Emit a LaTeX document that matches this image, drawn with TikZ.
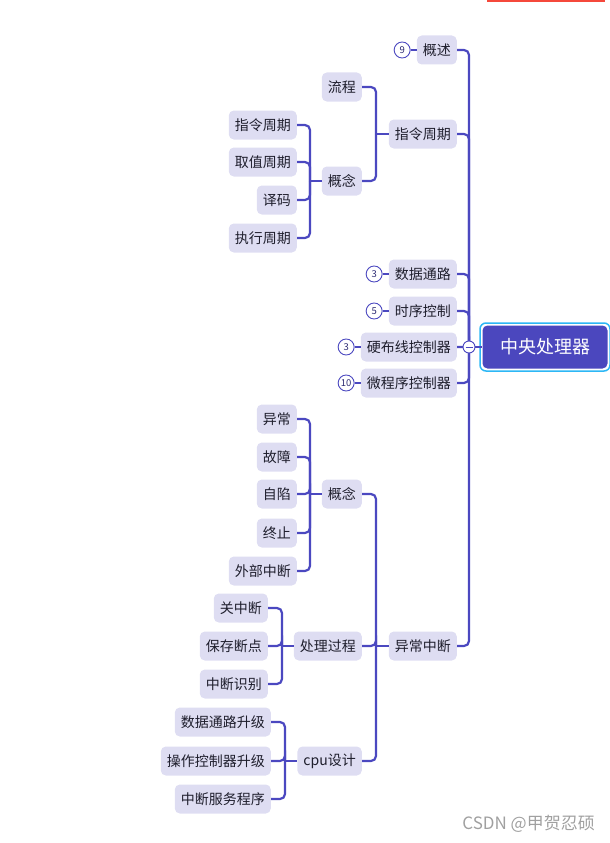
\documentclass[tikz,border=0pt]{standalone}
\usepackage{fontspec}
\setmainfont{Noto Sans CJK SC}
\definecolor{lineC}{HTML}{4B48C0}
\definecolor{boxC}{HTML}{DEDDF2}
\definecolor{txtC}{HTML}{1E1E2C}
\definecolor{rootC}{HTML}{4B47BE}
\definecolor{selC}{HTML}{2DB7F5}
\definecolor{redC}{HTML}{F5483B}
\definecolor{wmC}{HTML}{A0A0A0}
\begin{document}
\begin{tikzpicture}[x=1pt,y=-1pt,
 topic/.style={fill=boxC, rounded corners=5pt, minimum height=29pt, inner xsep=6pt, inner ysep=0pt, font=\fontsize{14}{16}\selectfont, text=txtC, anchor=east},
 conn/.style={draw=lineC, line width=2.2pt, rounded corners=5pt},
 badge/.style={circle, draw=lineC, line width=0.9pt, fill=white, minimum size=16pt, inner sep=0pt, font=\fontsize{9.5}{10}\selectfont, text=lineC!60!black, left=6pt},
 rootbox/.style={fill=rootC, rounded corners=5pt, minimum width=125pt, minimum height=43pt, inner sep=0pt, text=white, font=\fontsize{18}{20}\selectfont},
]
\useasboundingbox (0,0) rectangle (610,843);
\fill[redC] (487,0) rectangle (605,2);

% junction coordinates
\coordinate (j0) at (469,347);
\coordinate (j1) at (376,134);
\coordinate (j2) at (310,181);
\coordinate (j3) at (376,646);
\coordinate (j4) at (310,494);
\coordinate (j5) at (282,646);
\coordinate (j6) at (285,761);

% root
\node[rootbox] (root) at (545,347) {中央处理器};
\node[draw=selC, line width=1.5pt, rounded corners=6pt, minimum width=130pt, minimum height=48pt, inner sep=0pt] (rootsel) at (root.center) {};

% level 1
\node[topic] (gaishu) at (457,50) {概述};
\node[topic] (zlzq) at (457,134) {指令周期};
\node[topic] (sjtl) at (457,274) {数据通路};
\node[topic] (sxkz) at (457,311) {时序控制};
\node[topic] (ybx) at (457,347) {硬布线控制器};
\node[topic] (wcx) at (457,383) {微程序控制器};
\node[topic] (yczd) at (457,646) {异常中断};

% 指令周期 subtree
\node[topic] (liucheng) at (362,87) {流程};
\node[topic] (gnA) at (362,181) {概念};
\node[topic] (a1) at (297,125) {指令周期};
\node[topic] (a2) at (297,162) {取值周期};
\node[topic] (a3) at (297,200) {译码};
\node[topic] (a4) at (297,238) {执行周期};

% 异常中断 subtree
\node[topic] (gnB) at (362,494) {概念};
\node[topic] (b1) at (297,419) {异常};
\node[topic] (b2) at (297,457) {故障};
\node[topic] (b3) at (297,494) {自陷};
\node[topic] (b4) at (297,533) {终止};
\node[topic] (b5) at (297,571) {外部中断};
\node[topic] (clgc) at (362,646) {处理过程};
\node[topic] (c1) at (268,608) {关中断};
\node[topic] (c2) at (268,646) {保存断点};
\node[topic] (c3) at (268,684) {中断识别};
\node[topic] (cpu) at (362,761) {cpu设计};
\node[topic] (d1) at (271,722) {数据通路升级};
\node[topic] (d2) at (271,761) {操作控制器升级};
\node[topic] (d3) at (271,799) {中断服务程序};

% connectors
\foreach \n in {gaishu,zlzq,sjtl,sxkz,ybx,wcx,yczd}{\draw[conn] (\n.east) -| (j0);}
\draw[conn] (j0) -- (root.west);
\foreach \n in {liucheng,gnA}{\draw[conn] (\n.east) -| (j1);}
\draw[conn] (j1) -- (zlzq.west);
\foreach \n in {a1,a2,a3,a4}{\draw[conn] (\n.east) -| (j2);}
\draw[conn] (j2) -- (gnA.west);
\foreach \n in {gnB,clgc,cpu}{\draw[conn] (\n.east) -| (j3);}
\draw[conn] (j3) -- (yczd.west);
\foreach \n in {b1,b2,b3,b4,b5}{\draw[conn] (\n.east) -| (j4);}
\draw[conn] (j4) -- (gnB.west);
\foreach \n in {c1,c2,c3}{\draw[conn] (\n.east) -| (j5);}
\draw[conn] (j5) -- (clgc.west);
\foreach \n in {d1,d2,d3}{\draw[conn] (\n.east) -| (j6);}
\draw[conn] (j6) -- (cpu.west);

% badges
\node[badge] (bg1) at (gaishu.west) {9};
\node[badge] (bg2) at (sjtl.west) {3};
\node[badge] (bg3) at (sxkz.west) {5};
\node[badge] (bg4) at (ybx.west) {3};
\node[badge] (bg5) at (wcx.west) {10};
\foreach \b/\n in {bg1/gaishu,bg2/sjtl,bg3/sxkz,bg4/ybx,bg5/wcx}{\draw[lineC, line width=1.5pt] (\b) -- (\n.west);}

% collapse button
\node[circle, draw=lineC, line width=0.9pt, fill=white, minimum size=12pt, inner sep=0pt] (fold) at (j0) {};
\draw[lineC, line width=1pt] ([xshift=-3.5pt]fold.center) -- ([xshift=3.5pt]fold.center);

% watermark
\node[text=wmC, font=\fontsize{17}{20}\selectfont, anchor=east, inner sep=0pt] (wm) at (595,824) {CSDN @甲贺忍硕};
\end{tikzpicture}
\end{document}
